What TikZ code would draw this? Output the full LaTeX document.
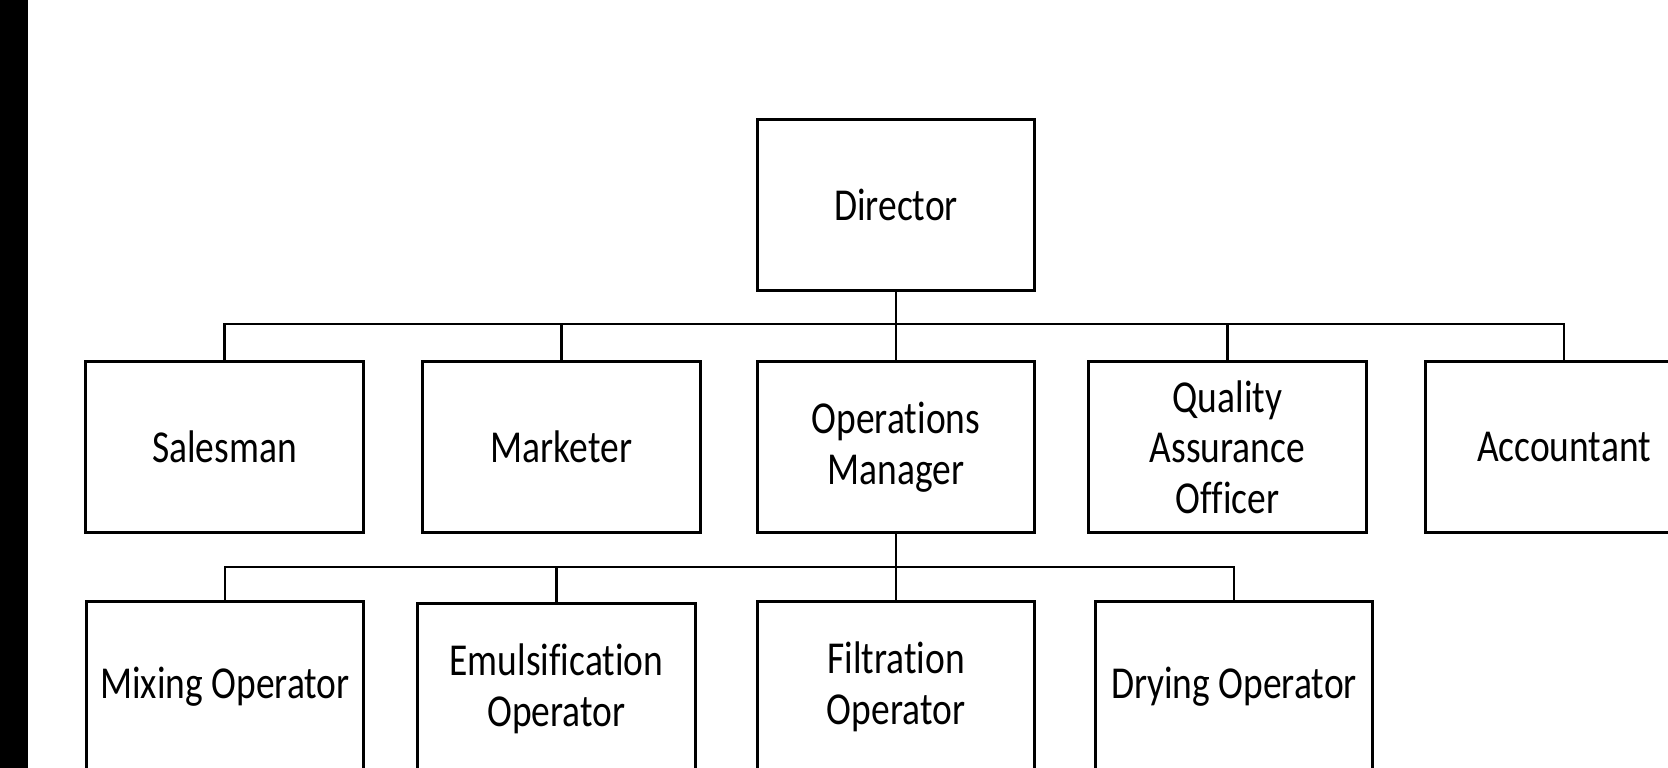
\documentclass[tikz,border=0pt]{standalone}
\usepackage{fontspec}
\setmainfont{Carlito}[FakeStretch=0.82, Ligatures=NoCommon]
\usepackage{tikz}
\usetikzlibrary{positioning}
\definecolor{RoleLine}{HTML}{000000}
\definecolor{EdgeBar}{HTML}{000000}

\begin{document}
\begin{tikzpicture}[x=0.01cm, y=-0.01cm,
  role/.style={draw=RoleLine, line width=0.85pt, fill=white,
    minimum width=2.77cm, minimum height=1.70cm, inner sep=2pt,
    align=center, font=\fontsize{13}{14.4}\selectfont},
  link/.style={draw=RoleLine, line width=0.75pt}]

  %% Page frame: whole picture, dark strip at the left edge
  \useasboundingbox (0,0) rectangle (1668,768);
  \clip (0,0) rectangle (1668,768);
  \fill[EdgeBar] (0,0) rectangle (28,768);

  %% Column centres (x)
  \def\cSal{224.5}   % salesman
  \def\cMkt{561.5}   % marketer
  \def\cOps{896}     % operations manager / director
  \def\cQa{1227.5}   % quality assurance
  \def\cAcc{1564}    % accountant

  % lower row centres
  \def\cMix{225}
  \def\cEmu{556.5}
  \def\cDry{1234}

  %% Row centres (y, counting down)
  \def\yDir{205}
  \def\yMid{447}
  \def\yLow{687}

  % bus lines
  \coordinate (busTop) at (0,324);
  \coordinate (busLow) at (0,567);

  %% Top
  \node[role] (dir) at (\cOps,\yDir) {Director};

  %% Middle row
  \node[role] (sal) at (\cSal,\yMid) {Salesman};
  \node[role] (mkt) at (\cMkt,\yMid) {Marketer};
  \node[role] (ops) at (\cOps,\yMid) {Operations\\Manager};
  \node[role] (qa)  at (\cQa,\yMid)  {Quality\\Assurance\\Officer};
  \node[role] (acc) at (\cAcc,\yMid) {Accountant};

  %% Bottom row
  \node[role] (mix) at (\cMix,\yLow) {Mixing Operator};
  \node[role] (emu) at (\cEmu,\yLow+2) {Emulsification\\Operator};
  \node[role] (fil) at (\cOps,\yLow) {Filtration\\Operator};
  \node[role] (dry) at (\cDry,\yLow) {Drying Operator};

  %% Connectors
  \foreach \n in {sal, mkt, ops, qa, acc}{
    \draw[link] (dir.south) -- (dir.south |- busTop) -| (\n.north);
  }
  \foreach \n in {mix, emu, fil, dry}{
    \draw[link] (ops.south) -- (ops.south |- busLow) -| (\n.north);
  }

\end{tikzpicture}
\end{document}
